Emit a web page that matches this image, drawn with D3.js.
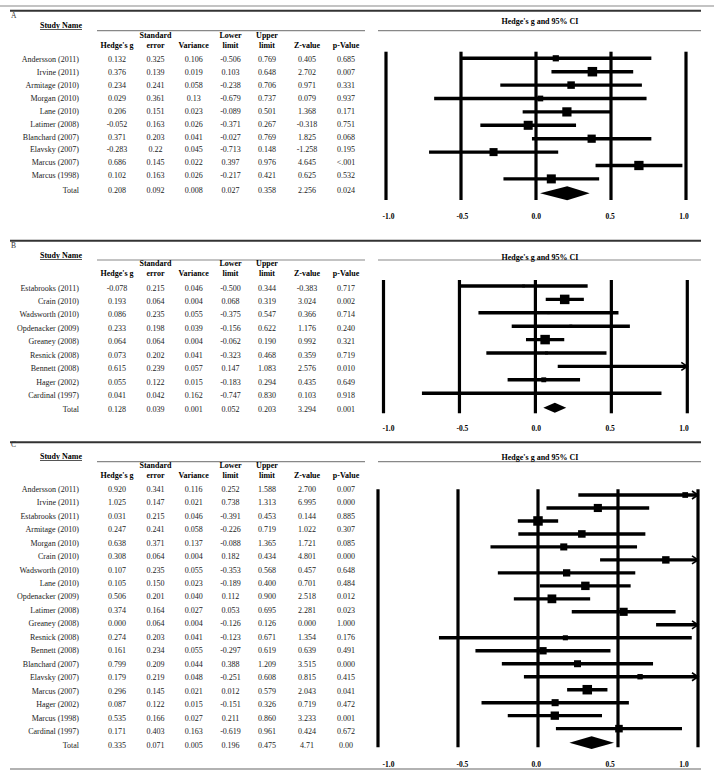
<!DOCTYPE html>
<html><head><meta charset="utf-8">
<script src="https://cdn.jsdelivr.net/npm/d3@7"></script>
<style>
html,body{margin:0;padding:0;background:#fff;}
svg{display:block;}
text{font-family:"Liberation Serif","Times New Roman",serif;}
</style></head>
<body>
<svg id="chart" width="714" height="778"></svg>
<script>
// ---------------- DATA ----------------
const headerRow1 = ["", "Standard", "", "Lower", "Upper", "", ""];
const headerRow2 = ["Hedge's g", "error", "Variance", "limit", "limit", "Z-value", "p-Value"];
const tickValues = [-1.0, -0.5, 0.0, 0.5, 1.0];
const tickLabels = ["-1.0", "-0.5", "0.0", "0.5", "1.0"];

// Panel A
const studiesA = ["Andersson (2011)","Irvine (2011)","Armitage (2010)","Morgan (2010)","Lane (2010)","Latimer (2008)","Blanchard (2007)","Elavsky (2007)","Marcus (2007)","Marcus (1998)","Total"];
const gA   = ["0.132","0.376","0.234","0.029","0.206","-0.052","0.371","-0.283","0.686","0.102","0.208"];
const seA  = ["0.325","0.139","0.241","0.361","0.151","0.163","0.203","0.22","0.145","0.163","0.092"];
const varA = ["0.106","0.019","0.058","0.13","0.023","0.026","0.041","0.045","0.022","0.026","0.008"];
const lowA = ["-0.506","0.103","-0.238","-0.679","-0.089","-0.371","-0.027","-0.713","0.397","-0.217","0.027"];
const upA  = ["0.769","0.648","0.706","0.737","0.501","0.267","0.769","0.148","0.976","0.421","0.358"];
const zA   = ["0.405","2.702","0.971","0.079","1.368","-0.318","1.825","-1.258","4.645","0.625","2.256"];
const pA   = ["0.685","0.007","0.331","0.937","0.171","0.751","0.068","0.195","<.001","0.532","0.024"];
const forestOrderA = studiesA.slice(0, -1);

// Panel B
const studiesB = ["Estabrooks (2011)","Crain (2010)","Wadsworth (2010)","Opdenacker (2009)","Greaney (2008)","Resnick (2008)","Bennett (2008)","Hager (2002)","Cardinal (1997)","Total"];
const gB   = ["-0.078","0.193","0.086","0.233","0.064","0.073","0.615","0.055","0.041","0.128"];
const seB  = ["0.215","0.064","0.235","0.198","0.064","0.202","0.239","0.122","0.042","0.039"];
const varB = ["0.046","0.004","0.055","0.039","0.004","0.041","0.057","0.015","0.162","0.001"];
const lowB = ["-0.500","0.068","-0.375","-0.156","-0.062","-0.323","0.147","-0.183","-0.747","0.052"];
const upB  = ["0.344","0.319","0.547","0.622","0.190","0.468","1.083","0.294","0.830","0.203"];
const zB   = ["-0.383","3.024","0.366","1.176","0.992","0.359","2.576","0.435","0.103","3.294"];
const pB   = ["0.717","0.002","0.714","0.240","0.321","0.719","0.010","0.649","0.918","0.001"];
const forestOrderB = studiesB.slice(0, -1);

// Panel C
const studiesC = ["Andersson (2011)","Irvine (2011)","Estabrooks (2011)","Armitage (2010)","Morgan (2010)","Crain (2010)","Wadsworth (2010)","Lane (2010)","Opdenacker (2009)","Latimer (2008)","Greaney (2008)","Resnick (2008)","Bennett (2008)","Blanchard (2007)","Elavsky (2007)","Marcus (2007)","Hager (2002)","Marcus (1998)","Cardinal (1997)","Total"];
const gC   = ["0.920","1.025","0.031","0.247","0.638","0.308","0.107","0.105","0.506","0.374","0.000","0.274","0.161","0.799","0.179","0.296","0.087","0.535","0.171","0.335"];
const seC  = ["0.341","0.147","0.215","0.241","0.371","0.064","0.235","0.150","0.201","0.164","0.064","0.203","0.234","0.209","0.219","0.145","0.122","0.166","0.403","0.071"];
const varC = ["0.116","0.021","0.046","0.058","0.137","0.004","0.055","0.023","0.040","0.027","0.004","0.041","0.055","0.044","0.048","0.021","0.015","0.027","0.163","0.005"];
const lowC = ["0.252","0.738","-0.391","-0.226","-0.088","0.182","-0.353","-0.189","0.112","0.053","-0.126","-0.123","-0.297","0.388","-0.251","0.012","-0.151","0.211","-0.619","0.196"];
const upC  = ["1.588","1.313","0.453","0.719","1.365","0.434","0.568","0.400","0.900","0.695","0.126","0.671","0.619","1.209","0.608","0.579","0.326","0.860","0.961","0.475"];
const zC   = ["2.700","6.995","0.144","1.022","1.721","4.801","0.457","0.701","2.518","2.281","0.000","1.354","0.639","3.515","0.815","2.043","0.719","3.233","0.424","4.71"];
const pC   = ["0.007","0.000","0.885","0.307","0.085","0.000","0.648","0.484","0.012","0.023","1.000","0.176","0.491","0.000","0.415","0.041","0.472","0.001","0.672","0.00"];
// order in which the forest plot rows appear in panel C
const forestOrderC = ["Andersson (2011)","Latimer (2008)","Greaney (2008)","Resnick (2008)","Bennett (2008)","Blanchard (2007)","Elavsky (2007)","Marcus (2007)","Hager (2002)","Marcus (1998)","Irvine (2011)","Cardinal (1997)","Estabrooks (2011)","Armitage (2010)","Morgan (2010)","Crain (2010)","Wadsworth (2010)","Lane (2010)","Opdenacker (2009)"];

// ---------------- LAYOUT ----------------
const panels = [
  {label:"A", studies:studiesA, cols:[gA,seA,varA,lowA,upA,zA,pA], order:forestOrderA,
   labelY:15, studyY:25, hdrLineY:30.7, h1Y:35, h2Y:45, rowY0:59.3, rowStep:12.9, totalY:190.3,
   titleY:20.7, fTop:51.7, fBot:200, fY0:58.3, fStep:13.4, diamY:193.3, diamH:14, tickY:216, xr:[386,686]},
  {label:"B", studies:studiesB, cols:[gB,seB,varB,lowB,upB,zB,pB], order:forestOrderB,
   labelY:245, studyY:255, hdrLineY:260, h1Y:263.3, h2Y:273.3, rowY0:287.7, rowStep:13.45, totalY:409.3,
   titleY:256.7, fTop:280, fBot:413.3, fY0:286, fStep:13.4, diamY:407.7, diamH:10, tickY:428.3, xr:[383.5,687.3]},
  {label:"C", studies:studiesC, cols:[gC,seC,varC,lowC,upC,zC,pC], order:forestOrderC,
   labelY:444, studyY:456, hdrLineY:461.7, h1Y:465, h2Y:475, rowY0:489, rowStep:13.46, totalY:745.3,
   titleY:456.7, fTop:489.3, fBot:747.3, fY0:495, fStep:12.98, diamY:742.7, diamH:12.7, tickY:764.3, xr:[378,698]}
];
const colX = [117, 155.5, 193.7, 230.5, 267, 307, 346];
const nameX = 79;
const FS = 8;
const base = 2.8; // baseline offset from visual centre
const labelScale = d3.scaleLinear().domain([-1, 1]).range([388.5, 684]);

const svg = d3.select("#chart");

// frame lines
svg.append("line").attr("x1",0).attr("x2",714).attr("y1",6).attr("y2",6).attr("stroke","#888").attr("stroke-width",1.2);
svg.append("line").attr("x1",10).attr("x2",701).attr("y1",10.7).attr("y2",10.7).attr("stroke","#333").attr("stroke-width",2);
svg.append("line").attr("x1",10).attr("x2",701).attr("y1",240.7).attr("y2",240.7).attr("stroke","#333").attr("stroke-width",2);
svg.append("line").attr("x1",10).attr("x2",701).attr("y1",442.3).attr("y2",442.3).attr("stroke","#333").attr("stroke-width",2);
svg.append("line").attr("x1",10).attr("x2",701).attr("y1",769).attr("y2",769).attr("stroke","#999").attr("stroke-width",1.3);

function dlWeights(v, y) {
  const w = v.map(d => 1 / d);
  const sw = d3.sum(w);
  const ybar = d3.sum(w.map((d, i) => d * y[i])) / sw;
  const Q = d3.sum(w.map((d, i) => d * (y[i] - ybar) ** 2));
  const C = sw - d3.sum(w.map(d => d * d)) / sw;
  const tau2 = Math.max(0, (Q - (v.length - 1)) / C);
  return v.map(d => 1 / (d + tau2));
}

panels.forEach(p => {
  const g = svg.append("g");
  const n = p.studies.length;
  // panel letter
  g.append("text").attr("x", 11).attr("y", p.labelY + base).attr("font-size", 7.5).attr("fill", "#333").text(p.label);
  // Study Name header
  g.append("text").attr("x", 61).attr("y", p.studyY + base).attr("text-anchor","middle")
    .attr("font-size", FS).attr("font-weight","bold").text("Study Name");
  g.append("line").attr("x1", 40).attr("x2", 82).attr("y1", p.studyY + 4.5).attr("y2", p.studyY + 4.5)
    .attr("stroke","#555").attr("stroke-width",1);
  // header lines
  g.append("line").attr("x1", 97).attr("x2", 365).attr("y1", p.hdrLineY).attr("y2", p.hdrLineY).attr("stroke","#888").attr("stroke-width",1.2);
  g.append("line").attr("x1", 378).attr("x2", 701).attr("y1", p.hdrLineY).attr("y2", p.hdrLineY).attr("stroke","#888").attr("stroke-width",1.2);
  g.append("text").attr("x", 540).attr("y", p.titleY + base).attr("text-anchor","middle")
    .attr("font-size", FS).attr("font-weight","bold").text("Hedge's g and 95% CI");
  // column headers
  g.selectAll(".h1").data(headerRow1).join("text")
    .attr("x",(d,i)=>colX[i]).attr("y",p.h1Y + base).attr("text-anchor","middle")
    .attr("font-size",FS).attr("font-weight","bold").text(d=>d);
  g.selectAll(".h2").data(headerRow2).join("text")
    .attr("x",(d,i)=>colX[i]).attr("y",p.h2Y + base).attr("text-anchor","middle")
    .attr("font-size",FS).attr("font-weight","bold").text(d=>d);
  // table rows
  const rowY = i => (i === n - 1) ? p.totalY : p.rowY0 + i * p.rowStep;
  g.selectAll(".nm").data(p.studies).join("text")
    .attr("x", nameX).attr("y", (d,i)=>rowY(i) + base).attr("text-anchor","end")
    .attr("font-size", FS).attr("fill","#222").text(d=>d);
  p.cols.forEach((col, c) => {
    g.selectAll(".c"+c).data(col).join("text")
      .attr("x", colX[c]).attr("y", (d,i)=>rowY(i) + base).attr("text-anchor","middle")
      .attr("font-size", FS).attr("fill","#222").text(d=>d);
  });

  // forest plot
  const x = d3.scaleLinear().domain([-1, 1]).range(p.xr);
  const [G, SE, V, LO, UP] = p.cols;
  const recs = p.studies.slice(0, -1).map((s, i) => ({name:s, g:+G[i], v:+V[i], lo:+LO[i], up:+UP[i]}));
  const w = dlWeights(recs.map(d => d.v), recs.map(d => d.g));
  const wmax = d3.max(w);
  recs.forEach((d, i) => { d.size = Math.max(2, 9.5 * Math.sqrt(w[i] / wmax)); });
  const byName = new Map(recs.map(d => [d.name, d]));
  const rows = p.order.map((nm, j) => Object.assign({}, byName.get(nm), {y: p.fY0 + j * p.fStep}));

  // reference lines
  g.selectAll(".vl").data(tickValues).join("line")
    .attr("x1", d=>x(d)).attr("x2", d=>x(d)).attr("y1", p.fTop).attr("y2", p.fBot)
    .attr("stroke","#000").attr("stroke-width",3.2);
  // CIs
  g.selectAll(".ci").data(rows).join("line")
    .attr("x1", d=>x(Math.max(-1, d.lo))).attr("x2", d=>x(Math.min(1, d.up)))
    .attr("y1", d=>d.y).attr("y2", d=>d.y).attr("stroke","#000").attr("stroke-width",3.4);
  // arrows for clipped
  g.selectAll(".ar").data(rows.filter(d => d.up > 1)).join("path")
    .attr("d", d => `M${x(1)-6},${d.y-4}L${x(1)},${d.y}L${x(1)-6},${d.y+4}`)
    .attr("fill","none").attr("stroke","#000").attr("stroke-width",1.6);
  // squares
  g.selectAll(".sq").data(rows.filter(d => d.g <= 1 && d.g >= -1)).join("rect")
    .attr("x", d=>x(d.g) - d.size/2).attr("y", d=>d.y - d.size/2)
    .attr("width", d=>d.size).attr("height", d=>d.size).attr("fill","#000");
  // summary diamond
  const tg = +G[n-1], tlo = +LO[n-1], tup = +UP[n-1];
  g.append("path")
    .attr("d", `M${x(tlo)},${p.diamY}L${x(tg)},${p.diamY - p.diamH/2}L${x(tup)},${p.diamY}L${x(tg)},${p.diamY + p.diamH/2}Z`)
    .attr("fill","#000");
  // tick labels
  g.selectAll(".tl").data(tickValues).join("text")
    .attr("x", (d)=>labelScale(d)).attr("y", p.tickY + base).attr("text-anchor","middle")
    .attr("font-size", 7.5).attr("font-weight","bold").text((d,i)=>tickLabels[i]);
});
</script>
</body></html>
